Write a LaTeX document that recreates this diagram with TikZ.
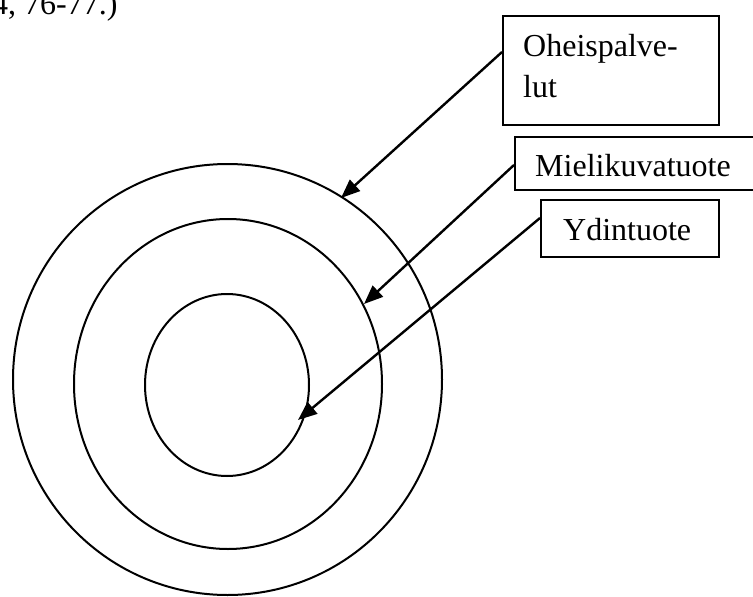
\documentclass[tikz,border=0pt]{standalone}
\usepackage{fontspec}
\setmainfont{Liberation Serif}
\usetikzlibrary{arrows.meta}
\begin{document}
\begin{tikzpicture}[x=1pt,y=-1pt,
  ring/.style={line width=2pt},
  box/.style={draw,line width=2pt,inner sep=0pt},
  lbl/.style={anchor=base west,inner sep=0pt,font=\fontsize{32}{38}\selectfont},
  pointer/.style={line width=2.4pt,-{Triangle[length=19pt,width=15pt]}}]
\useasboundingbox (0,0) rectangle (753,597);
\begin{scope}
\clip (0,0) rectangle (753,597);
% top text fragment (cut off in the reference as well)
\node[lbl] (src) at (-8,15) {4, 76-77.)};
% rings
\draw[ring] (227.5,379.5) ellipse [x radius=214.5, y radius=215.5];
\draw[ring] (228,384) ellipse [x radius=154, y radius=165];
\draw[ring] (227,385) ellipse [x radius=82, y radius=91];
% boxes
\node[box,minimum width=216pt,minimum height=109pt] (ob) at (611,70.5) {};
\node[box,minimum width=242pt,minimum height=53pt] (mb) at (636,163.5) {};
\node[box,minimum width=178pt,minimum height=57pt] (yb) at (630,228.5) {};
% labels
\node[lbl] (ot1) at (523,56.7) {Oheispalve-};
\node[lbl] (ot2) at (523,97.7) {lut};
\node[lbl] (mt) at (535,176.7) {Mielikuvatuote};
\node[lbl] (yt) at (563,240) {Ydintuote};
% arrow tips
\coordinate (t1) at (341,198);
\coordinate (t2) at (364,304);
\coordinate (t3) at (298,420);
\draw[pointer] ([yshift=-37pt]ob.north west) -- (t1);
\draw[pointer] ([yshift=-1.5pt]mb.west) -- (t2);
\draw[pointer] ([yshift=10.5pt]yb.west) -- (t3);
\end{scope}
\end{tikzpicture}
\end{document}
